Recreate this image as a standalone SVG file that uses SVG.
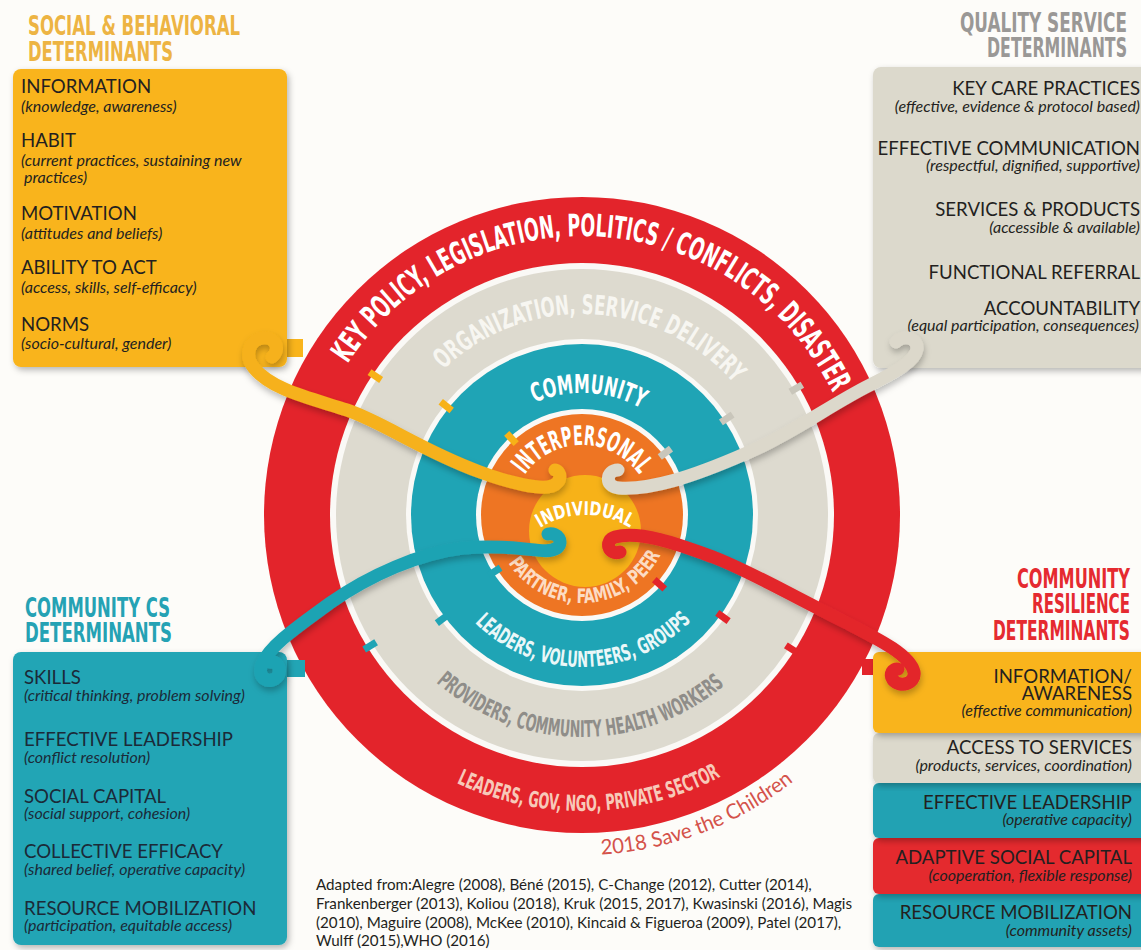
<svg xmlns="http://www.w3.org/2000/svg" width="1141" height="950" viewBox="0 0 1141 950">
<defs>
<style>
.h{font-family:Lato,'Open Sans','Liberation Sans',sans-serif;font-size:18.6px;fill:#231f20}
.i{font-family:Lato,'Open Sans','Liberation Sans',sans-serif;font-style:italic;font-size:16px;fill:#231f20}
.nv{fill:#1b2a38}
.tl{font-family:'DejaVu Sans Condensed','DejaVu Sans',sans-serif;font-weight:bold;font-stretch:condensed;font-size:15.6px}
.rt{font-family:'DejaVu Sans Condensed','DejaVu Sans',sans-serif;font-weight:bold;font-stretch:condensed}
.rib{fill:none;stroke-width:13;stroke-linecap:round;stroke-linejoin:round}
.cit{font-family:Lato,'Open Sans','Liberation Sans',sans-serif;font-size:15.2px;fill:#231f20}
.tab{stroke:none}
</style>
<filter id="sh" x="-10%" y="-10%" width="125%" height="125%">
<feDropShadow dx="2" dy="3" stdDeviation="3" flood-color="#000" flood-opacity="0.28"/>
</filter>
<filter id="rsh" x="-10%" y="-10%" width="125%" height="130%">
<feDropShadow dx="1" dy="4" stdDeviation="3" flood-color="#000" flood-opacity="0.25"/>
</filter>
<path id="pKey" d="M303,515 A279,279 0 0 1 861,515"/>
<path id="pOrg" d="M381,515 A201,201 0 0 1 783,515"/>
<path id="pCom" d="M460,515 A122,122 0 0 1 704,515"/>
<path id="pInt" d="M512,515 A70,70 0 0 1 652,515"/>
<path id="pInd" d="M500,600 A85,85 0 0 1 670,600"/>
<path id="pPtn" d="M494,515 A88,88 0 0 0 670,515"/>
<path id="pLvg" d="M430,515 A152,152 0 0 0 734,515"/>
<path id="pPrv" d="M360,515 A222,222 0 0 0 804,515"/>
<path id="pGov" d="M286,515 A296,296 0 0 0 878,515"/>
<path id="pStc" d="M242,515 A340,340 0 0 0 922,515"/>
</defs>

<rect x="0" y="0" width="1141" height="950" fill="#fdfcf9"/>

<g id="rings">
  <g id="ring-policy">
    <circle cx="582" cy="515" r="318" fill="#e3242b"/>
    <circle cx="582" cy="515" r="252" fill="#faf9f6"/>
  </g>
  <g id="ring-organization">
    <circle cx="582" cy="515" r="246" fill="#dddacf"/>
    <circle cx="582" cy="515" r="176" fill="#faf9f6"/>
  </g>
  <g id="ring-community">
    <circle cx="582" cy="515" r="171" fill="#1fa4b5"/>
    <circle cx="582" cy="515" r="106" fill="#faf9f6"/>
  </g>
  <g id="ring-interpersonal">
    <circle cx="582" cy="515" r="101" fill="#ee7523"/>
  </g>
  <g id="ring-individual">
    <circle cx="585" cy="531" r="56" fill="#f7b218"/>
  </g>
  <g id="ring-tabs">
    <rect class="tab" x="-7" y="-3.5" width="14" height="7" fill="#f7b218" transform="translate(582,515) rotate(-146.1) translate(249,0)"/>
    <rect class="tab" x="-7" y="-3.5" width="14" height="7" fill="#f7b218" transform="translate(582,515) rotate(-141.3) translate(174,0)"/>
    <rect class="tab" x="-7" y="-3.5" width="14" height="7" fill="#f7b218" transform="translate(582,515) rotate(-132.7) translate(104,0)"/>
    <rect class="tab" x="-7" y="-3.5" width="14" height="7" fill="#c9c6bb" transform="translate(582,515) rotate(-30.6) translate(249,0)"/>
    <rect class="tab" x="-7" y="-3.5" width="14" height="7" fill="#c9c6bb" transform="translate(582,515) rotate(-33.7) translate(174,0)"/>
    <rect class="tab" x="-7" y="-3.5" width="14" height="7" fill="#c9c6bb" transform="translate(582,515) rotate(-36.7) translate(104,0)"/>
    <rect class="tab" x="-7" y="-3.5" width="14" height="7" fill="#1fa4b5" transform="translate(582,515) rotate(148.3) translate(249,0)"/>
    <rect class="tab" x="-7" y="-3.5" width="14" height="7" fill="#1fa4b5" transform="translate(582,515) rotate(143.3) translate(174,0)"/>
    <rect class="tab" x="-7" y="-3.5" width="14" height="7" fill="#1fa4b5" transform="translate(582,515) rotate(147.1) translate(104,0)"/>
    <rect class="tab" x="-7" y="-3.5" width="14" height="7" fill="#e3242b" transform="translate(582,515) rotate(41.8) translate(104,0)"/>
    <rect class="tab" x="-7" y="-3.5" width="14" height="7" fill="#e3242b" transform="translate(582,515) rotate(35.9) translate(174,0)"/>
    <rect class="tab" x="-7" y="-3.5" width="14" height="7" fill="#e3242b" transform="translate(582,515) rotate(32.6) translate(249,0)"/>
  </g>
  <g id="ring-labels">
    <text class="rt" font-size="31" fill="#ffffff"><textPath href="#pKey" startOffset="51.9%" text-anchor="middle" textLength="590" lengthAdjust="spacingAndGlyphs">KEY POLICY, LEGISLATION, POLITICS / CONFLICTS, DISASTER</textPath></text>
    <text class="rt" font-size="27" fill="#f7f6f1"><textPath href="#pOrg" startOffset="51.5%" text-anchor="middle" textLength="325" lengthAdjust="spacingAndGlyphs">ORGANIZATION, SERVICE DELIVERY</textPath></text>
    <text class="rt" font-size="26" fill="#ffffff"><textPath href="#pCom" startOffset="51.7%" text-anchor="middle" textLength="111" lengthAdjust="spacingAndGlyphs">COMMUNITY</textPath></text>
    <text class="rt" font-size="27" fill="#ffffff"><textPath href="#pInt" startOffset="50%" text-anchor="middle" textLength="134" lengthAdjust="spacingAndGlyphs">INTERPERSONAL</textPath></text>
    <text class="rt" font-size="19" fill="#ffffff"><textPath href="#pInd" startOffset="50%" text-anchor="middle" textLength="95" lengthAdjust="spacingAndGlyphs">INDIVIDUAL</textPath></text>
    <text class="rt" font-size="20" fill="#fcdcc4"><textPath href="#pPtn" startOffset="51.7%" text-anchor="middle" textLength="184" lengthAdjust="spacingAndGlyphs">PARTNER, FAMILY, PEER</textPath></text>
    <text class="rt" font-size="22" fill="#eaf7f8"><textPath href="#pLvg" startOffset="50.3%" text-anchor="middle" textLength="241" lengthAdjust="spacingAndGlyphs">LEADERS, VOLUNTEERS, GROUPS</textPath></text>
    <text class="rt" font-size="23" fill="#8f8d89"><textPath href="#pPrv" startOffset="49.7%" text-anchor="middle" textLength="314" lengthAdjust="spacingAndGlyphs">PROVIDERS, COMMUNITY HEALTH WORKERS</textPath></text>
    <text class="rt" font-size="22" fill="#f7c9b9"><textPath href="#pGov" startOffset="50.8%" text-anchor="middle" textLength="274" lengthAdjust="spacingAndGlyphs">LEADERS, GOV, NGO, PRIVATE SECTOR</textPath></text>
    <text font-family="Lato,'Open Sans','Liberation Sans',sans-serif" font-size="21" fill="#d4524a"><textPath href="#pStc" startOffset="51.8%" textLength="209" lengthAdjust="spacingAndGlyphs">2018 Save the Children</textPath></text>
  </g>
</g>

<g id="social-behavioral">
  <text class="tl" fill="#edb443" transform="translate(28,35) scale(1,1.65)" textLength="212" lengthAdjust="spacingAndGlyphs">SOCIAL &amp; BEHAVIORAL</text>
  <text class="tl" fill="#edb443" transform="translate(28,61) scale(1,1.65)" textLength="145" lengthAdjust="spacingAndGlyphs">DETERMINANTS</text>
  <rect x="285" y="339" width="18" height="18" fill="#f9b41b"/>
  <rect x="13" y="69" width="274" height="298" rx="8" fill="#f9b41b" filter="url(#sh)"/>
  <text class="h" x="21" y="93">INFORMATION</text>
  <text class="i" x="21" y="112">(knowledge, awareness)</text>
  <text class="h" x="21" y="147">HABIT</text>
  <text class="i" x="21" y="166">(current practices, sustaining new</text>
  <text class="i" x="24" y="183">practices)</text>
  <text class="h" x="21" y="220">MOTIVATION</text>
  <text class="i" x="21" y="239">(attitudes and beliefs)</text>
  <text class="h" x="21" y="274">ABILITY TO ACT</text>
  <text class="i" x="21" y="293">(access, skills, self-efficacy)</text>
  <text class="h" x="21" y="331">NORMS</text>
  <text class="i" x="21" y="349">(socio-cultural, gender)</text>
</g>

<g id="quality-service">
  <text class="tl" fill="#9a9896" transform="translate(960,32) scale(1,1.65)" textLength="167" lengthAdjust="spacingAndGlyphs">QUALITY SERVICE</text>
  <text class="tl" fill="#9a9896" transform="translate(987,57) scale(1,1.65)" textLength="140" lengthAdjust="spacingAndGlyphs">DETERMINANTS</text>
  <rect x="873" y="67" width="290" height="301" rx="8" fill="#dcd9cc" filter="url(#sh)"/>
  <text class="h" x="1140" y="95" text-anchor="end">KEY CARE PRACTICES</text>
  <text class="i" x="1140" y="112" text-anchor="end">(effective, evidence &amp; protocol based)</text>
  <text class="h" x="1140" y="155" text-anchor="end">EFFECTIVE COMMUNICATION</text>
  <text class="i" x="1140" y="171" text-anchor="end">(respectful, dignified, supportive)</text>
  <text class="h" x="1140" y="216" text-anchor="end">SERVICES &amp; PRODUCTS</text>
  <text class="i" x="1140" y="233" text-anchor="end">(accessible &amp; available)</text>
  <text class="h" x="1140" y="279" text-anchor="end">FUNCTIONAL REFERRAL</text>
  <text class="h" x="1140" y="315" text-anchor="end">ACCOUNTABILITY</text>
  <text class="i" x="1139" y="331" text-anchor="end">(equal participation, consequences)</text>
</g>

<g id="community-cs">
  <text class="tl" fill="#25a2b4" transform="translate(25,617) scale(1,1.65)" textLength="145" lengthAdjust="spacingAndGlyphs">COMMUNITY CS</text>
  <text class="tl" fill="#25a2b4" transform="translate(25,642) scale(1,1.65)" textLength="147" lengthAdjust="spacingAndGlyphs">DETERMINANTS</text>
  <rect x="285" y="660" width="20" height="17" fill="#22a5b5"/>
  <rect x="13" y="652" width="274" height="293" rx="8" fill="#22a5b5" filter="url(#sh)"/>
  <text class="h nv" x="24" y="684">SKILLS</text>
  <text class="i nv" x="24" y="701">(critical thinking, problem solving)</text>
  <text class="h nv" x="24" y="746">EFFECTIVE LEADERSHIP</text>
  <text class="i nv" x="24" y="763">(conflict resolution)</text>
  <text class="h nv" x="24" y="803">SOCIAL CAPITAL</text>
  <text class="i nv" x="24" y="819">(social support, cohesion)</text>
  <text class="h nv" x="24" y="858">COLLECTIVE EFFICACY</text>
  <text class="i nv" x="24" y="875">(shared belief, operative capacity)</text>
  <text class="h nv" x="24" y="915">RESOURCE MOBILIZATION</text>
  <text class="i nv" x="24" y="931">(participation, equitable access)</text>
</g>

<g id="community-resilience">
  <text class="tl" fill="#e52a30" transform="translate(1017,588) scale(1,1.65)" textLength="113" lengthAdjust="spacingAndGlyphs">COMMUNITY</text>
  <text class="tl" fill="#e52a30" transform="translate(1032,613) scale(1,1.65)" textLength="98" lengthAdjust="spacingAndGlyphs">RESILIENCE</text>
  <text class="tl" fill="#e52a30" transform="translate(993,640) scale(1,1.65)" textLength="137" lengthAdjust="spacingAndGlyphs">DETERMINANTS</text>
  <rect x="862" y="659" width="14" height="16" fill="#e3242b"/>
  <rect x="873" y="894" width="290" height="53" rx="6" fill="#21a2b3" filter="url(#sh)"/>
  <rect x="873" y="838" width="290" height="56" rx="6" fill="#e42a2e" filter="url(#sh)"/>
  <rect x="873" y="783" width="290" height="55" rx="6" fill="#21a2b3" filter="url(#sh)"/>
  <rect x="873" y="733" width="290" height="50" rx="6" fill="#dcd9cc" filter="url(#sh)"/>
  <rect x="873" y="652" width="290" height="81" rx="6" fill="#f9b41b" filter="url(#sh)"/>
  <text class="h" x="1132" y="683" text-anchor="end">INFORMATION/</text>
  <text class="h" x="1132" y="700" text-anchor="end">AWARENESS</text>
  <text class="i" x="1132" y="716" text-anchor="end">(effective communication)</text>
  <text class="h" x="1132" y="754" text-anchor="end">ACCESS TO SERVICES</text>
  <text class="i" x="1132" y="771" text-anchor="end">(products, services, coordination)</text>
  <text class="h" x="1132" y="809" text-anchor="end">EFFECTIVE LEADERSHIP</text>
  <text class="i" x="1132" y="825" text-anchor="end">(operative capacity)</text>
  <text class="h" x="1132" y="864" text-anchor="end">ADAPTIVE SOCIAL CAPITAL</text>
  <text class="i" x="1132" y="881" text-anchor="end">(cooperation, flexible response)</text>
  <text class="h" x="1132" y="919" text-anchor="end">RESOURCE MOBILIZATION</text>
  <text class="i" x="1132" y="936" text-anchor="end">(community assets)</text>
</g>

<g id="connectors" filter="url(#rsh)">
  <path class="rib" stroke="#f6b11b" d="M272,357 C282,348 274,336 262,338 C249,340 244,356 254,368 C272,390 310,398 347,410 C385,423 420,450 480,472 C510,483 540,490 552,486 C562,482 562,472 555,470"/>
  <path class="rib" stroke="#dcd8cb" d="M618,470 C606,470 604,487 619,488 C650,490 690,478 747,453 C790,435 830,405 870,385 C895,372 915,362 917,349 C918,338 904,334 896,342"/>
  <path class="rib" stroke="#1fa3b3" d="M548,534 C558,532 564,542 557,548 C545,556 520,543 463,548 C420,553 370,575 330,603 C300,625 270,645 262,664 C256,678 270,686 278,676 C282,668 276,660 270,662"/>
  <path class="rib" stroke="#e3262c" d="M620,552 C608,556 604,540 615,537 C640,530 680,545 713,557 C750,571 790,595 847,623 C880,640 910,655 914,672 C916,684 900,688 893,680 C889,674 893,668 898,669"/>
</g>

<g id="citation">
  <text class="cit" x="316" y="890">Adapted from:Alegre (2008), Béné (2015), C-Change (2012), Cutter (2014),</text>
  <text class="cit" x="316" y="909">Frankenberger (2013), Koliou (2018), Kruk (2015, 2017), Kwasinski (2016), Magis</text>
  <text class="cit" x="316" y="928">(2010), Maguire (2008), McKee (2010), Kincaid &amp; Figueroa (2009), Patel (2017),</text>
  <text class="cit" x="316" y="946">Wulff (2015),WHO (2016)</text>
</g>
</svg>
